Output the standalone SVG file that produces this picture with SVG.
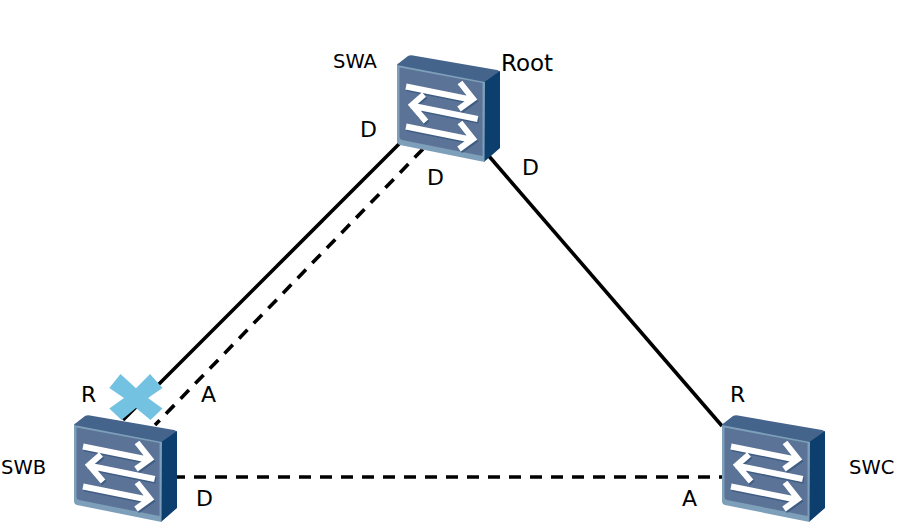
<svg xmlns="http://www.w3.org/2000/svg" width="913" height="530" viewBox="0 0 913 530">
<style>
text{font-family:"DejaVu Sans",sans-serif;fill:#000}
.a{font-size:22px}.b{font-size:19.500px}.r{font-size:23px}
.l{fill:none;stroke:#000;stroke-width:3.600}
.d{stroke-dasharray:12 9}
.ar{fill:none;stroke:#fff;stroke-width:6}
.as{fill:none;stroke:#2a4a72;stroke-width:6;opacity:.55}
</style>
<defs>
<path id="arrows" d="M9 31.500L76 45M63 27.500L76 44L62 54M80.700 64L14 50.500M27 39.500L15 50L29 66.500M9 71.500L76 85M63 67.500L76 84L62 94"/>
<g id="sw">
<path d="M0 10Q0 9 2 8L11 1Q13 0 16 0.500L100 15Q103 16 103 17L88 30L3 14Z" fill="#45648c"/>
<path d="M86 28L103 16V93L87 107Z" fill="#0c3f6e"/>
<path d="M0 10L88 27L87.500 107L3 90Q0 89 0 86Z" fill="#7d9fb9"/>
<path d="M2.500 12.500L85.500 28V101L5 85Q2.500 84.500 2.500 82Z" fill="#5b7397"/>
<use href="#arrows" class="as" transform="translate(1.200,1.800)"/>
<use href="#arrows" class="ar"/>
</g>
</defs>
<g id="connectors">
<path class="l" d="M400 143L123 420"/>
<path class="l d" d="M423 149L155 425"/>
<path class="l" d="M488 155L722 426"/>
<path class="l d" style="stroke-dashoffset:4" d="M177 477H722"/>
</g>
<g id="swa"><use href="#sw" x="397" y="55"/><text class="b" x="333" y="68">SWA</text><text class="r" x="501" y="71">Root</text></g>
<g id="swb"><use href="#sw" x="74" y="415"/><text class="b" x="1" y="474">SWB</text></g>
<g id="swc"><use href="#sw" x="722" y="415"/><text class="b" x="849" y="474">SWC</text></g>
<g id="labels">
<text class="a" x="360" y="137">D</text>
<text class="a" x="427" y="185">D</text>
<text class="a" x="522" y="175">D</text>
<text class="a" x="81" y="402">R</text>
<text class="a" x="201" y="402">A</text>
<text class="a" x="730" y="402">R</text>
<text class="a" x="196" y="506">D</text>
<text class="a" x="682" y="506">A</text>
</g>
<g id="cross"><path d="M109.300 388L120.500 374L136 388.300L150 374L162.500 388L148 398L162.500 408.500L150.500 420L136 408L121.500 420L109.300 408.500L124 398Z" fill="#73c2e2"/></g>
</svg>
